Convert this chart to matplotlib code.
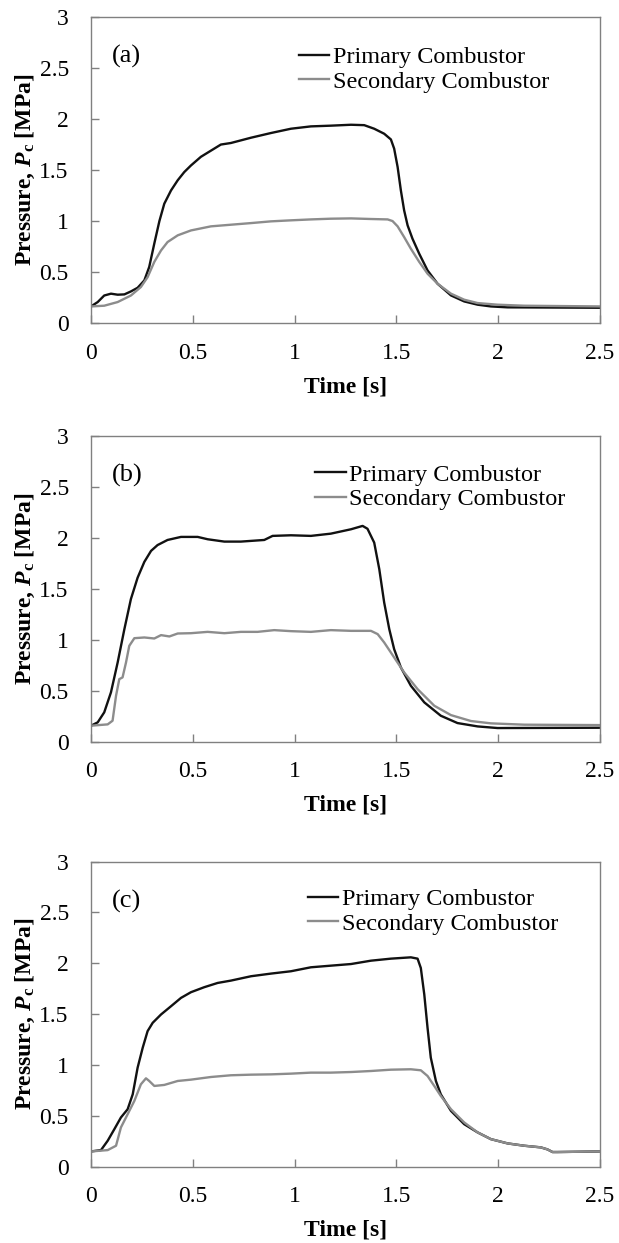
import numpy as np
import matplotlib.pyplot as plt

# ---------------------------------------------------------
# Chamber pressure traces (time [s], pressure [MPa])
# ---------------------------------------------------------
# (a)
t_a_pri = [0, 0.033, 0.065, 0.098, 0.131, 0.164, 0.196, 0.229, 0.262, 0.286, 0.311, 0.336,
           0.36, 0.393, 0.426, 0.458, 0.491, 0.54, 0.589, 0.638, 0.687, 0.786, 0.884, 0.982,
           1.08, 1.178, 1.277, 1.342, 1.391, 1.44, 1.473, 1.489, 1.506, 1.522, 1.538, 1.555,
           1.579, 1.612, 1.653, 1.702, 1.768, 1.833, 1.899, 1.964, 2.046, 2.5]
p_a_pri = [0.163, 0.206, 0.27, 0.288, 0.278, 0.281, 0.31, 0.346, 0.418, 0.55, 0.78, 1.0,
           1.17, 1.30, 1.40, 1.48, 1.545, 1.63, 1.69, 1.75, 1.765, 1.817, 1.863, 1.905,
           1.928, 1.935, 1.944, 1.94, 1.905, 1.856, 1.80, 1.71, 1.53, 1.30, 1.105, 0.958,
           0.827, 0.68, 0.516, 0.386, 0.271, 0.212, 0.18, 0.163, 0.154, 0.15]
t_a_sec = [0, 0.065, 0.131, 0.196, 0.245, 0.278, 0.311, 0.344, 0.376, 0.426, 0.491, 0.589,
           0.687, 0.786, 0.884, 0.982, 1.08, 1.178, 1.277, 1.375, 1.457, 1.481, 1.506, 1.538,
           1.571, 1.612, 1.653, 1.702, 1.768, 1.833, 1.899, 1.997, 2.128, 2.5]
p_a_sec = [0.163, 0.17, 0.206, 0.27, 0.353, 0.45, 0.6, 0.712, 0.794, 0.86, 0.908, 0.948,
           0.964, 0.98, 0.997, 1.007, 1.016, 1.023, 1.026, 1.02, 1.016, 1.0, 0.948, 0.843,
           0.729, 0.6, 0.484, 0.386, 0.288, 0.229, 0.196, 0.18, 0.17, 0.163]

# (b)
t_b_pri = [0, 0.033, 0.065, 0.098, 0.131, 0.164, 0.196, 0.229, 0.262, 0.295, 0.327, 0.376,
           0.442, 0.524, 0.573, 0.655, 0.736, 0.851, 0.892, 0.982, 1.08, 1.178, 1.277, 1.334,
           1.358, 1.391, 1.416, 1.44, 1.465, 1.489, 1.522, 1.571, 1.637, 1.718, 1.8, 1.899,
           1.997, 2.5]
p_b_pri = [0.157, 0.19, 0.288, 0.484, 0.778, 1.105, 1.40, 1.61, 1.765, 1.873, 1.93, 1.98,
           2.01, 2.01, 1.987, 1.964, 1.964, 1.98, 2.02, 2.026, 2.02, 2.042, 2.085, 2.118,
           2.09, 1.954, 1.693, 1.366, 1.105, 0.908, 0.729, 0.549, 0.386, 0.255, 0.183, 0.15,
           0.134, 0.137]
t_b_sec = [0, 0.082, 0.106, 0.123, 0.139, 0.155, 0.172, 0.188, 0.213, 0.262, 0.311, 0.344,
           0.385, 0.426, 0.491, 0.573, 0.655, 0.736, 0.818, 0.9, 0.982, 1.08, 1.178, 1.277,
           1.375, 1.408, 1.44, 1.489, 1.538, 1.604, 1.686, 1.768, 1.866, 1.964, 2.128, 2.5]
p_b_sec = [0.157, 0.17, 0.206, 0.451, 0.614, 0.631, 0.778, 0.941, 1.016, 1.023, 1.013, 1.046,
           1.033, 1.062, 1.065, 1.078, 1.065, 1.078, 1.078, 1.095, 1.085, 1.078, 1.095, 1.088,
           1.088, 1.056, 0.974, 0.827, 0.68, 0.516, 0.353, 0.261, 0.203, 0.18, 0.167, 0.163]

# (c)
t_c_pri = [0, 0.049, 0.082, 0.115, 0.147, 0.18, 0.205, 0.229, 0.254, 0.278, 0.303, 0.344,
           0.393, 0.442, 0.491, 0.556, 0.622, 0.687, 0.786, 0.884, 0.982, 1.08, 1.178, 1.277,
           1.375, 1.473, 1.571, 1.604, 1.62, 1.637, 1.653, 1.669, 1.694, 1.718, 1.768, 1.833,
           1.899, 1.964, 2.046, 2.128, 2.209, 2.242, 2.267, 2.291, 2.5]
p_c_pri = [0.15, 0.163, 0.255, 0.37, 0.484, 0.565, 0.712, 0.974, 1.17, 1.333, 1.415, 1.497,
           1.578, 1.66, 1.716, 1.765, 1.807, 1.83, 1.873, 1.899, 1.922, 1.961, 1.977, 1.993,
           2.026, 2.046, 2.059, 2.046, 1.954, 1.693, 1.366, 1.072, 0.843, 0.712, 0.549, 0.418,
           0.337, 0.271, 0.229, 0.206, 0.19, 0.17, 0.144, 0.144, 0.15]
t_c_sec = [0, 0.082, 0.123, 0.147, 0.18, 0.213, 0.245, 0.27, 0.286, 0.311, 0.36, 0.426,
           0.491, 0.589, 0.687, 0.786, 0.884, 0.982, 1.08, 1.178, 1.277, 1.375, 1.473, 1.571,
           1.62, 1.653, 1.686, 1.718, 1.768, 1.833, 1.899, 1.964, 2.046, 2.128, 2.209, 2.242,
           2.267, 2.291, 2.5]
p_c_sec = [0.15, 0.163, 0.206, 0.386, 0.516, 0.647, 0.81, 0.869, 0.843, 0.794, 0.804, 0.843,
           0.856, 0.882, 0.899, 0.905, 0.908, 0.915, 0.925, 0.925, 0.931, 0.941, 0.954, 0.958,
           0.948, 0.892, 0.794, 0.696, 0.565, 0.435, 0.337, 0.271, 0.229, 0.206, 0.19, 0.17,
           0.144, 0.144, 0.15]

panels = [
    ("(a)", t_a_pri, p_a_pri, t_a_sec, p_a_sec),
    ("(b)", t_b_pri, p_b_pri, t_b_sec, p_b_sec),
    ("(c)", t_c_pri, p_c_pri, t_c_sec, p_c_sec),
]

# axes boxes [left, bottom, width, height] and legend anchor for each panel
boxes = [
    [0.147, 0.7401, 0.8223, 0.2462],
    [0.147, 0.4033, 0.8223, 0.2459],
    [0.147, 0.0614, 0.8223, 0.2454],
]
leg_anchor = [(0.408, 0.828), (0.441, 0.834), (0.426, 0.837)]

plt.rcParams["font.family"] = "Liberation Serif"
plt.rcParams["mathtext.fontset"] = "custom"
plt.rcParams["mathtext.it"] = "Liberation Serif:italic:bold"
plt.rcParams["mathtext.bf"] = "Liberation Serif:bold"
plt.rcParams["mathtext.rm"] = "Liberation Serif:bold"

FS = 17
fig = plt.figure(figsize=(6.19, 12.43), dpi=100)

for (tag, tp, pp, ts, ps), box, anc in zip(panels, boxes, leg_anchor):
    ax = fig.add_axes(box)
    ax.plot(tp, pp, color="#111111", lw=1.7, label="Primary Combustor")
    ax.plot(ts, ps, color="#8c8c8c", lw=1.7, label="Secondary Combustor")

    ax.set_xlim(0, 2.5)
    ax.set_ylim(0, 3)
    ax.set_xticks([0, 0.5, 1, 1.5, 2, 2.5])
    ax.set_xticklabels(["0", "0.5", "1", "1.5", "2", "2.5"])
    ax.set_yticks([0, 0.5, 1, 1.5, 2, 2.5, 3])
    ax.set_yticklabels(["0", "0.5", "1", "1.5", "2", "2.5", "3"])
    ax.tick_params(axis="x", direction="in", length=6, width=1, color="#808080",
                   labelsize=FS, pad=14)
    ax.tick_params(axis="y", direction="in", length=6, width=1, color="#808080",
                   labelsize=FS, pad=16)
    for sp in ax.spines.values():
        sp.set_color("#808080")
        sp.set_linewidth(1)

    ax.set_xlabel("Time [s]", fontsize=FS, fontweight="bold", labelpad=9)
    ax.set_ylabel(r"Pressure, $P_{\mathbf{c}}$ [MPa]", fontsize=FS,
                  fontweight="bold", labelpad=2)

    ax.text(0.042, 0.871, tag, transform=ax.transAxes, fontsize=19,
            ha="left", va="center")
    ax.legend(loc="center left", bbox_to_anchor=anc, frameon=False, fontsize=17.5,
              handlelength=1.25, handletextpad=0.15, labelspacing=0.1,
              borderpad=0, borderaxespad=0)

fig.savefig("out.png", dpi=100)
